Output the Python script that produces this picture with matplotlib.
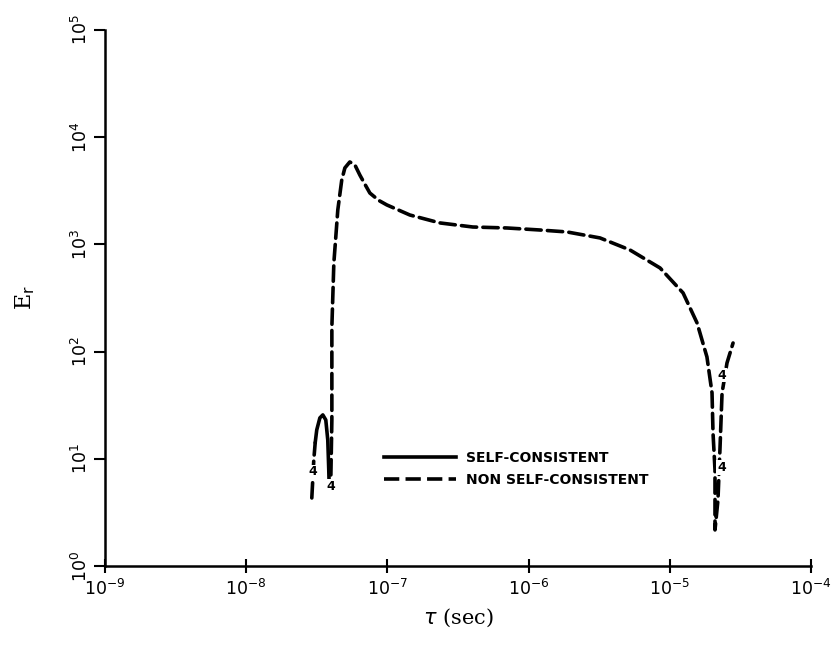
import matplotlib
matplotlib.use("Agg")
import matplotlib.pyplot as plt
from matplotlib.lines import Line2D

plt.rcParams['lines.scale_dashes'] = False

# non self-consistent curve (log10 tau, log10 E_r)
nsc_logtau = [-7.399, -7.392, -7.392, -7.378, -7.350, -7.322, -7.300, -7.265,
              -7.229, -7.194, -7.159, -7.123, -7.060, -7.003, -6.840, -6.627,
              -6.394, -6.153, -5.919, -5.728, -5.494, -5.282, -5.069, -4.906,
              -4.807, -4.737, -4.701, -4.694, -4.680, -4.680, -4.659, -4.645,
              -4.630, -4.595, -4.552]
nsc_logE = [0.849, 1.362, 2.229, 2.826, 3.321, 3.601, 3.713, 3.769,
            3.741, 3.647, 3.563, 3.479, 3.410, 3.368, 3.274, 3.200,
            3.162, 3.153, 3.134, 3.116, 3.060, 2.948, 2.780, 2.547,
            2.267, 1.950, 1.614, 1.241, 0.896, 0.336, 0.616, 1.082,
            1.614, 1.894, 2.080]

# small loop near 3e-8 s
loop_logtau = [-7.534, -7.527, -7.520, -7.510]
loop_logE = [0.634, 0.810, 0.989, 1.150]

# self-consistent piece (solid)
sc_logtau = [-7.510, -7.499, -7.477, -7.456, -7.435, -7.421, -7.414, -7.412]
sc_logE = [1.150, 1.269, 1.381, 1.409, 1.362, 1.175, 0.896, 0.800]

curve_labels = [(-7.527, 0.877, "4"), (-7.40, 0.74, "4"),
                (-4.63, 1.78, "4"), (-4.635, 0.92, "4")]

xticks = [1e-9, 1e-8, 1e-7, 1e-6, 1e-5, 1e-4]
xticklabels = ["$10^{-9}$", "$10^{-8}$", "$10^{-7}$", "$10^{-6}$", "$10^{-5}$", "$10^{-4}$"]
yticks = [1e0, 1e1, 1e2, 1e3, 1e4, 1e5]
yticklabels = ["$10^{0}$", "$10^{1}$", "$10^{2}$", "$10^{3}$", "$10^{4}$", "$10^{5}$"]

fig = plt.figure(figsize=(8.31, 6.52), dpi=100)
ax = fig.add_axes([0.126, 0.132, 0.850, 0.822])

def tolin(vals):
    return [10 ** v for v in vals]

dash = (11, 4.5)
ax.plot(tolin(nsc_logtau), tolin(nsc_logE), color="black", lw=2.6,
        dashes=dash, dash_capstyle="round", dash_joinstyle="round")
ax.plot(tolin(loop_logtau), tolin(loop_logE), color="black", lw=2.6,
        dashes=dash, dash_capstyle="round")
ax.plot(tolin(sc_logtau), tolin(sc_logE), color="black", lw=2.6,
        solid_capstyle="round", solid_joinstyle="round")

for lt, le, s in curve_labels:
    ax.text(10 ** lt, 10 ** le, s, fontsize=9, fontweight="bold",
            ha="center", va="center",
            bbox=dict(facecolor="white", edgecolor="none", pad=0.5))

ax.set_xscale("log")
ax.set_yscale("log")
ax.set_xlim(1e-9, 1e-4)
ax.set_ylim(1e0, 1e5)
ax.set_xticks(xticks)
ax.set_xticklabels(xticklabels)
ax.set_yticks(yticks)
ax.set_yticklabels(yticklabels, rotation=90, va="center")
ax.minorticks_off()
ax.tick_params(axis="x", direction="inout", length=10, width=1.5, labelsize=12.5, pad=4)
ax.tick_params(axis="y", direction="out", length=8, width=1.5, labelsize=12.5, pad=2)

for side in ["top", "right"]:
    ax.spines[side].set_visible(False)
for side in ["left", "bottom"]:
    ax.spines[side].set_linewidth(1.8)

ax.set_xlabel(r"$\tau$ (sec)", fontsize=15, family="DejaVu Serif", labelpad=6)
ax.set_ylabel(r"E$_\mathrm{r}$", fontsize=16, family="DejaVu Serif", labelpad=24)

handles = [Line2D([0], [0], color="black", lw=2.6),
           Line2D([0], [0], color="black", lw=2.6, dashes=dash)]
ax.legend(handles, ["SELF-CONSISTENT", "NON SELF-CONSISTENT"],
          loc="upper left", bbox_to_anchor=(0.385, 0.228), frameon=False,
          handlelength=5.2, handletextpad=0.7, labelspacing=0.6,
          borderpad=0, prop={"size": 10, "weight": "bold"})

fig.savefig("out.png", dpi=100)
